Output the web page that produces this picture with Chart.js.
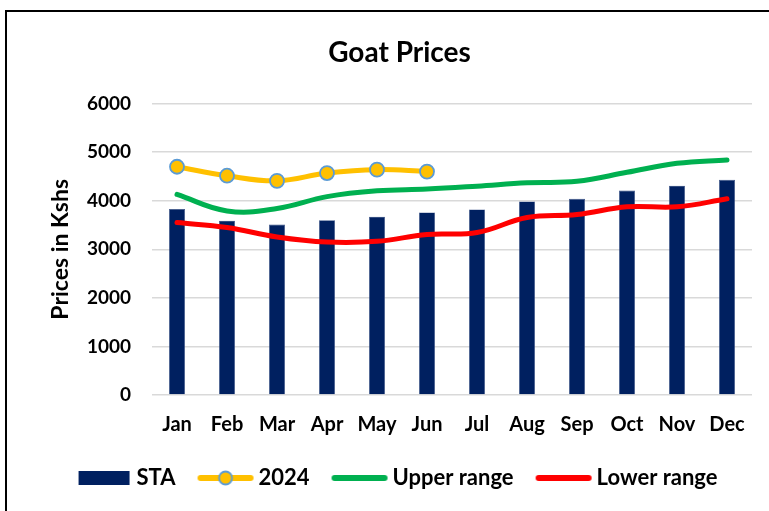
<!DOCTYPE html>
<html>
<head>
<meta charset="utf-8">
<script src="https://cdn.jsdelivr.net/npm/chart.js@4"></script>
<style>
  html, body { margin: 0; padding: 0; background: #fff; overflow: hidden; }
  #wrap { position: absolute; left: 0; top: 0; width: 769px; height: 511px; }
  #frame { position: absolute; left: 5px; top: 10px; width: 900px; height: 700px; border: 2px solid #000; box-sizing: border-box; }
  canvas { position: absolute; left: 0; top: 0; }
</style>
</head>
<body>
<div id="wrap">
  <div id="frame"></div>
  <canvas id="c" width="769" height="511"></canvas>
</div>
<script>
const months = ['Jan','Feb','Mar','Apr','May','Jun','Jul','Aug','Sep','Oct','Nov','Dec'];
const staValues = [3830, 3590, 3510, 3600, 3670, 3760, 3820, 3985, 4040, 4210, 4310, 4430];
const values2024 = [4700, 4515, 4410, 4570, 4640, 4600, null, null, null, null, null, null];
const upperRange = [4130, 3790, 3840, 4085, 4205, 4240, 4300, 4370, 4400, 4585, 4770, 4840];
const lowerRange = [3550, 3450, 3255, 3150, 3165, 3305, 3345, 3655, 3715, 3875, 3875, 4040];
const yTicks = [0, 1000, 2000, 3000, 4000, 5000, 6000];

const NAVY = '#002060', GOLD = '#FFC000', GREEN = '#00B050', RED = '#FF0000', MARKER_EDGE = '#5B9BD5';
const FONT = 'Lato, "Liberation Sans", sans-serif';

function sample(kind, color) {
  const c = document.createElement('canvas');
  c.width = 58; c.height = 18;
  const g = c.getContext('2d');
  if (kind === 'box') {
    g.fillStyle = color; g.fillRect(4, 2, 51, 14);
  } else {
    g.strokeStyle = color; g.lineWidth = 6; g.lineCap = 'round';
    g.beginPath(); g.moveTo(4, 9); g.lineTo(54, 9); g.stroke();
    if (kind === 'marker') {
      g.beginPath(); g.arc(29, 9, 6.5, 0, Math.PI * 2);
      g.fillStyle = GOLD; g.fill();
      g.lineWidth = 1.8; g.strokeStyle = MARKER_EDGE; g.stroke();
    }
  }
  return c;
}
const samples = [sample('box', NAVY), sample('marker', GOLD), sample('line', GREEN), sample('line', RED)];

new Chart(document.getElementById('c'), {
  data: {
    labels: months,
    datasets: [
      { type: 'bar', label: 'STA', data: staValues, backgroundColor: NAVY, borderColor: '#3a5288', borderWidth: 0.6,
        barPercentage: 0.64, categoryPercentage: 0.5, order: 3 },
      { type: 'line', label: '2024', data: values2024, borderColor: GOLD, borderWidth: 5, tension: 0.4,
        pointRadius: 7, pointBackgroundColor: GOLD, pointBorderColor: MARKER_EDGE, pointBorderWidth: 1.8, spanGaps: false, order: 0 },
      { type: 'line', label: 'Upper range', data: upperRange, borderColor: GREEN, borderWidth: 5, tension: 0.4,
        pointRadius: 0, borderCapStyle: 'round', order: 1 },
      { type: 'line', label: 'Lower range', data: lowerRange, borderColor: RED, borderWidth: 5, tension: 0.4,
        pointRadius: 0, borderCapStyle: 'round', order: 2 }
    ]
  },
  options: {
    responsive: false,
    animation: false,
    layout: { padding: { left: 47, right: 17, top: 30, bottom: 12 } },
    plugins: {
      title: { display: true, text: 'Goat Prices', color: '#000',
        font: { family: FONT, size: 28, weight: 'bold' }, padding: { top: 6, bottom: 34 } },
      legend: {
        position: 'bottom',
        labels: {
          usePointStyle: true, pointStyleWidth: 44, boxHeight: 18,
          color: '#000', font: { family: FONT, size: 22, weight: 'bold' }, padding: 28,
          generateLabels: (chart) => chart.data.datasets.map((ds, i) => ({
            text: ds.label, pointStyle: samples[i], datasetIndex: i, hidden: false,
            fillStyle: 'transparent', strokeStyle: 'transparent', lineWidth: 0, fontColor: '#000'
          }))
        }
      },
      tooltip: { enabled: false }
    },
    scales: {
      x: {
        grid: { display: false, drawTicks: false }, border: { display: false },
        ticks: { color: '#000', font: { family: FONT, size: 20, weight: 'bold' }, padding: 18, maxRotation: 0 },
        afterFit: (s) => { s.height = 44; }
      },
      y: {
        min: 0, max: 6000,
        afterBuildTicks: (s) => { s.ticks = yTicks.map(v => ({ value: v })); },
        grid: { color: '#d9d9d9', lineWidth: 1.5, drawTicks: false }, border: { display: false },
        ticks: { color: '#000', font: { family: FONT, size: 19, weight: 'bold' }, padding: 21,
          callback: (v) => String(v) },
        title: { display: true, text: 'Prices in Kshs', color: '#000', padding: 0,
          font: { family: FONT, size: 23, weight: 'bold' } },
        afterFit: (s) => { s.width = 105; }
      }
    }
  }
});
</script>
</body>
</html>
